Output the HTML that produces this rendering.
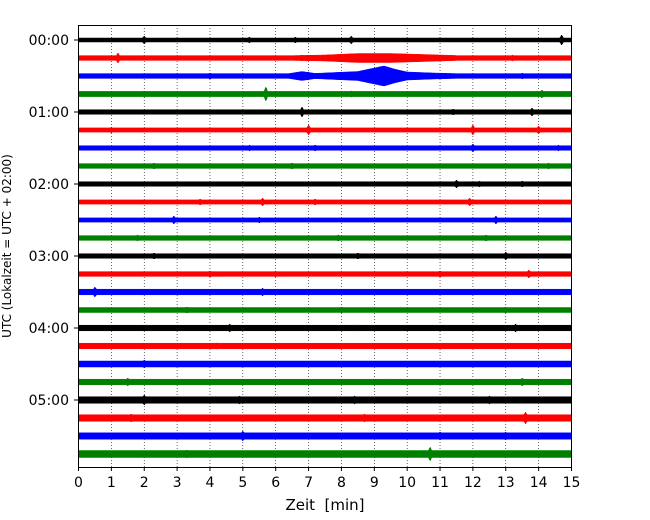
<!DOCTYPE html>
<html><head><meta charset="utf-8"><style>
body{margin:0;background:#fff;}
svg{display:block;font-family:"DejaVu Sans","Liberation Sans",sans-serif;}
</style></head><body>
<svg id="chart" width="650" height="520" viewBox="0 0 650 520" xmlns="http://www.w3.org/2000/svg">
<g id="grid"></g>
<g id="traces"></g>
<rect x="78.5" y="25.5" width="493" height="442" fill="none" stroke="#000" stroke-width="1"/>
<g id="axes"></g>
<text x="325" y="510" font-size="15" text-anchor="middle" xml:space="preserve">Zeit  [min]</text>
<text transform="translate(11,246) rotate(-90)" font-size="12" text-anchor="middle">UTC (Lokalzeit = UTC + 02:00)</text>
</svg>
<script>
const xTicks=[0,1,2,3,4,5,6,7,8,9,10,11,12,13,14,15];
const hourLabels=["00:00","01:00","02:00","03:00","04:00","05:00"];
const colors=["#000000","#ff0000","#0000ff","#008000"];
const baseAmp=[2,2.4,2.4,2.6,2.3,2.1,2.3,2.4,2.3,2.1,2.1,2.4,2.3,2.4,2.8,2.5,2.8,2.8,3,2.8,3.3,3.3,3.2,3.5];
const envelopeTrace1=[[6.5,2.4],[7.5,3],[8.5,4.5],[9.5,4.5],[10.5,3.5],[11.5,2.5]];
const envelopeTrace2=[[6.4,2.4],[6.8,4.5],[7.2,2.6],[7.8,3.5],[8.5,4.5],[9.0,8],[9.3,10],[9.6,7],[10,4],[10.8,3],[11.5,2.4]];
const spikes=[
[[2,4],[5.2,3],[6.6,3],[8.3,4],[14.7,5]],
[[1.2,5],[6.8,3],[13.2,3]],
[[4,3],[7,4],[13.5,3]],
[[2,3],[5.7,7],[8.3,3],[14.1,4]],
[[6.8,5],[11.4,3],[13.8,4]],
[[1,3],[7,5],[12,5],[14,4]],
[[5.2,3],[7.2,3],[12,4],[14.6,3]],
[[2.3,3],[6.5,3],[14.3,3]],
[[11.5,4],[12.2,3],[13.5,3]],
[[3.7,3],[5.6,4],[7.2,3],[11.9,4]],
[[2.9,4],[5.5,3],[12.7,4]],
[[1.8,3],[7.9,3],[12.4,3]],
[[2.3,3],[8.5,3],[13,4]],
[[4,3],[6,3],[11,3],[13.7,4]],
[[0.5,5],[5.6,4],[12.4,3]],
[[3.3,3],[8,3],[13,3]],
[[4.6,4],[8.5,3],[13.3,4]],
[[4.2,3],[9.2,3],[14,3]],
[[2,4],[7.6,3],[12.8,3]],
[[1.5,4],[3.7,3],[9.5,3],[13.5,4]],
[[2,5],[4.9,4],[8.4,4],[12.5,4]],
[[1.6,4],[8.7,4],[13.6,6]],
[[5,5],[11,4],[13,4]],
[[3.3,4],[10.7,7],[13.4,3]]
];
const X0=78.5,X1=571.5,Y0=40,DY=18;
function xs(m){return X0+(X1-X0)*m/15;}
function ys(i){return Y0+i*DY;}
const NS="http://www.w3.org/2000/svg";
function el(t,a,p){const e=document.createElementNS(NS,t);for(const k in a)e.setAttribute(k,a[k]);p.appendChild(e);return e;}
const grid=document.getElementById('grid'),axes=document.getElementById('axes'),tr=document.getElementById('traces');
xTicks.forEach(t=>{
 if(t>0&&t<15){const g=el('line',{x1:xs(t),x2:xs(t),y1:25,y2:467,stroke:'#000','stroke-width':0.6,'stroke-dasharray':'1,2'},grid);
 
 }
 const tk=el('line',{x1:xs(t),x2:xs(t),y1:467,y2:471,stroke:'#000'},axes);
 
 
 const tx=el('text',{x:xs(t),y:487,'font-size':14,'text-anchor':'middle'},axes);tx.textContent=t;
 
 
});
hourLabels.forEach((h,k)=>{
 const y=ys(k*4);
 const tk=el('line',{x1:74,x2:78,y1:y,y2:y,stroke:'#000'},axes);
 
 
 const tx=el('text',{x:69,y:y+5,'font-size':14,'text-anchor':'end'},axes);tx.textContent=h;
 
 
});
function interp(env,m){if(m<env[0][0]||m>env[env.length-1][0])return 0;
 for(let i=0;i<env.length-1;i++){const a=env[i],b=env[i+1];if(m>=a[0]&&m<=b[0])return a[1]+(b[1]-a[1])*(m-a[0])/(b[0]-a[0]);}return 0;}
for(let i=0;i<24;i++){
 const up=[],dn=[];
 for(let px=0;px<=493;px++){
  const m=px/493*15;
  let a=baseAmp[i];
  if(i===1)a=Math.max(a,interp(envelopeTrace1,m));
  if(i===2)a=Math.max(a,interp(envelopeTrace2,m));
  spikes[i].forEach(s=>{const d=(m-s[0])/0.05;a=Math.max(a,s[1]*Math.exp(-d*d));});
  up.push((X0+px).toFixed(1)+','+(ys(i)-a).toFixed(1));
  dn.unshift((X0+px).toFixed(1)+','+(ys(i)+a).toFixed(1));
 }
 const p=el('polygon',{points:up.concat(dn).join(' '),fill:colors[i%4],stroke:colors[i%4],'stroke-width':0.5},tr);
 
 
}
</script>
</body></html>
